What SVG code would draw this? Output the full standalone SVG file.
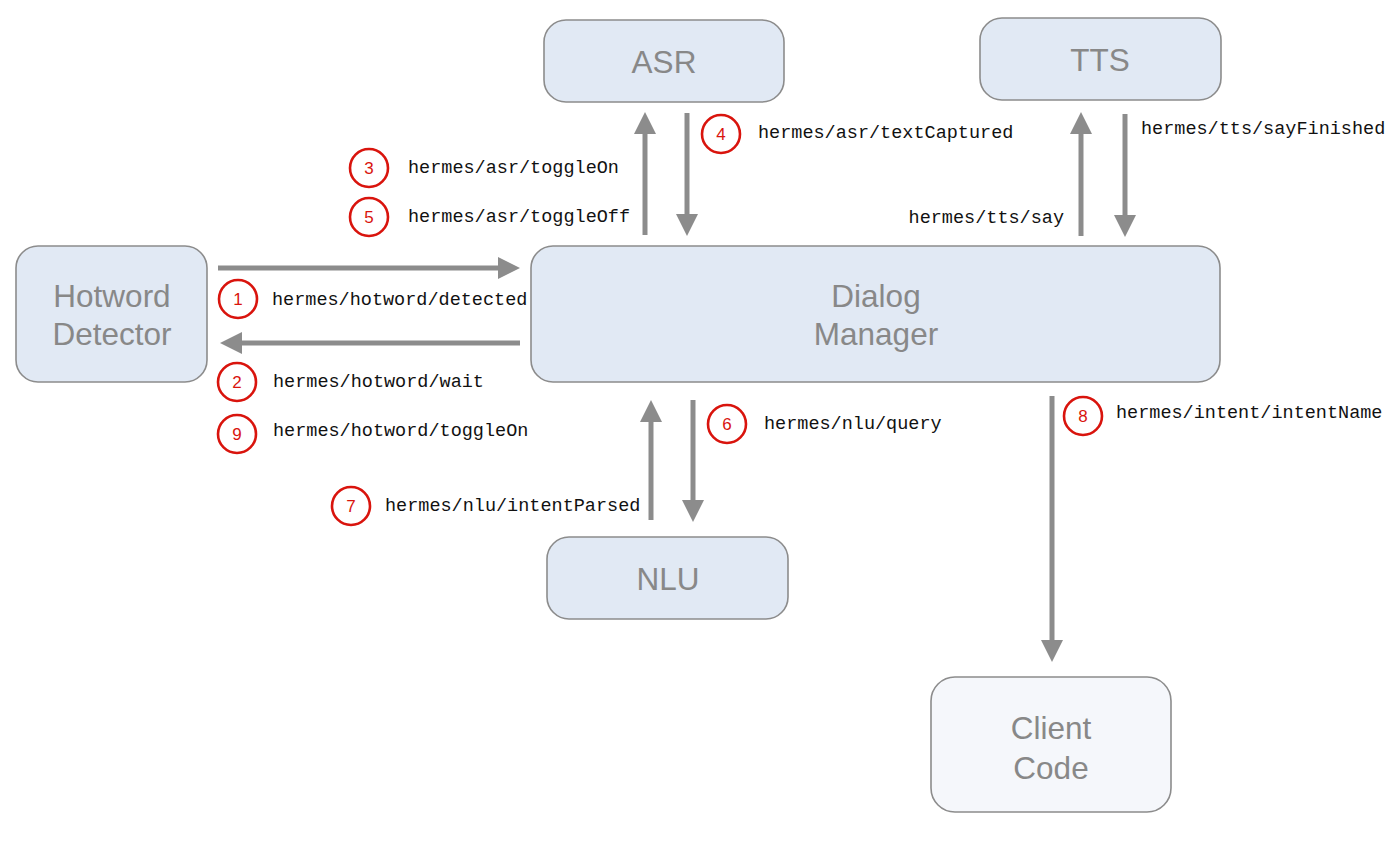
<svg xmlns="http://www.w3.org/2000/svg" width="1400" height="848" viewBox="0 0 1400 848">
<style>
.box{fill:#e1e9f4;stroke:#8c8c8c;stroke-width:1.6}
.box2{fill:#f5f7fb;stroke:#8c8c8c;stroke-width:1.6}
.lbl{font-family:"Liberation Sans",Arial,sans-serif;font-size:31.5px;fill:#888;text-anchor:middle}
.mono{font-family:"Liberation Mono","Courier New",monospace;font-size:18.5px;fill:#111}
.num circle{fill:#fff;stroke:#d9140d;stroke-width:2.6}
.num text{font-family:"Liberation Sans",Arial,sans-serif;font-size:17px;fill:#d9140d;text-anchor:middle}
.conn{stroke:#8c8c8c;stroke-width:5;fill:none;marker-end:url(#ah)}
</style>
<defs>
<marker id="ah" markerUnits="userSpaceOnUse" markerWidth="22" markerHeight="22" refX="8" refY="11" orient="auto">
<path d="M0,0 L22,11 L0,22 z" fill="#8c8c8c"/>
</marker>
</defs>
<rect width="1400" height="848" fill="#fff"/>
<g id="hotword">
<rect class="box" x="16" y="246" width="191" height="136" rx="22"/>
<text class="lbl" x="112" y="307">Hotword</text>
<text class="lbl" x="112" y="345">Detector</text>
</g>
<g id="dialog">
<rect class="box" x="531" y="246" width="689" height="136" rx="22"/>
<text class="lbl" x="876" y="307">Dialog</text>
<text class="lbl" x="876" y="345">Manager</text>
</g>
<g id="asr">
<rect class="box" x="544" y="20" width="240" height="82" rx="22"/>
<text class="lbl" x="664" y="73">ASR</text>
</g>
<g id="tts">
<rect class="box" x="980" y="18" width="241" height="82" rx="22"/>
<text class="lbl" x="1100" y="71">TTS</text>
</g>
<g id="nlu">
<rect class="box" x="547" y="537" width="241" height="82" rx="22"/>
<text class="lbl" x="668" y="590">NLU</text>
</g>
<g id="client">
<rect class="box2" x="931" y="677" width="240" height="135" rx="24"/>
<text class="lbl" x="1051" y="739">Client</text>
<text class="lbl" x="1051" y="779">Code</text>
</g>
<g id="connectors">
<line class="conn" x1="218" y1="268" x2="506" y2="268"/>
<line class="conn" x1="520" y1="343" x2="234" y2="343"/>
<line class="conn" x1="645" y1="235" x2="645" y2="126"/>
<line class="conn" x1="687" y1="113" x2="687" y2="222"/>
<line class="conn" x1="1081" y1="236" x2="1081" y2="126"/>
<line class="conn" x1="1125" y1="114" x2="1125" y2="223"/>
<line class="conn" x1="651" y1="520" x2="651" y2="414"/>
<line class="conn" x1="693" y1="400" x2="693" y2="508"/>
<line class="conn" x1="1052" y1="396" x2="1052" y2="648"/>
</g>
<g id="labels">
<g class="num"><circle cx="238" cy="299" r="19"/><text x="238" y="305">1</text></g>
<text class="mono" x="272" y="305">hermes/hotword/detected</text>
<g class="num"><circle cx="237" cy="382" r="19"/><text x="237" y="388">2</text></g>
<text class="mono" x="273" y="387">hermes/hotword/wait</text>
<g class="num"><circle cx="237" cy="434" r="19"/><text x="237" y="440">9</text></g>
<text class="mono" x="273" y="436">hermes/hotword/toggleOn</text>
<g class="num"><circle cx="369" cy="168" r="19"/><text x="369" y="174">3</text></g>
<text class="mono" x="408" y="173">hermes/asr/toggleOn</text>
<g class="num"><circle cx="369" cy="217" r="19"/><text x="369" y="223">5</text></g>
<text class="mono" x="408" y="222">hermes/asr/toggleOff</text>
<g class="num"><circle cx="721" cy="134" r="19"/><text x="721" y="140">4</text></g>
<text class="mono" x="758" y="138">hermes/asr/textCaptured</text>
<text class="mono" x="1064" y="223" text-anchor="end">hermes/tts/say</text>
<text class="mono" x="1141" y="134">hermes/tts/sayFinished</text>
<g class="num"><circle cx="727" cy="424" r="19"/><text x="727" y="430">6</text></g>
<text class="mono" x="764" y="429">hermes/nlu/query</text>
<g class="num"><circle cx="351" cy="506" r="19"/><text x="351" y="512">7</text></g>
<text class="mono" x="385" y="511">hermes/nlu/intentParsed</text>
<g class="num"><circle cx="1083" cy="416" r="19"/><text x="1083" y="422">8</text></g>
<text class="mono" x="1116" y="418">hermes/intent/intentName</text>
</g>
</svg>
